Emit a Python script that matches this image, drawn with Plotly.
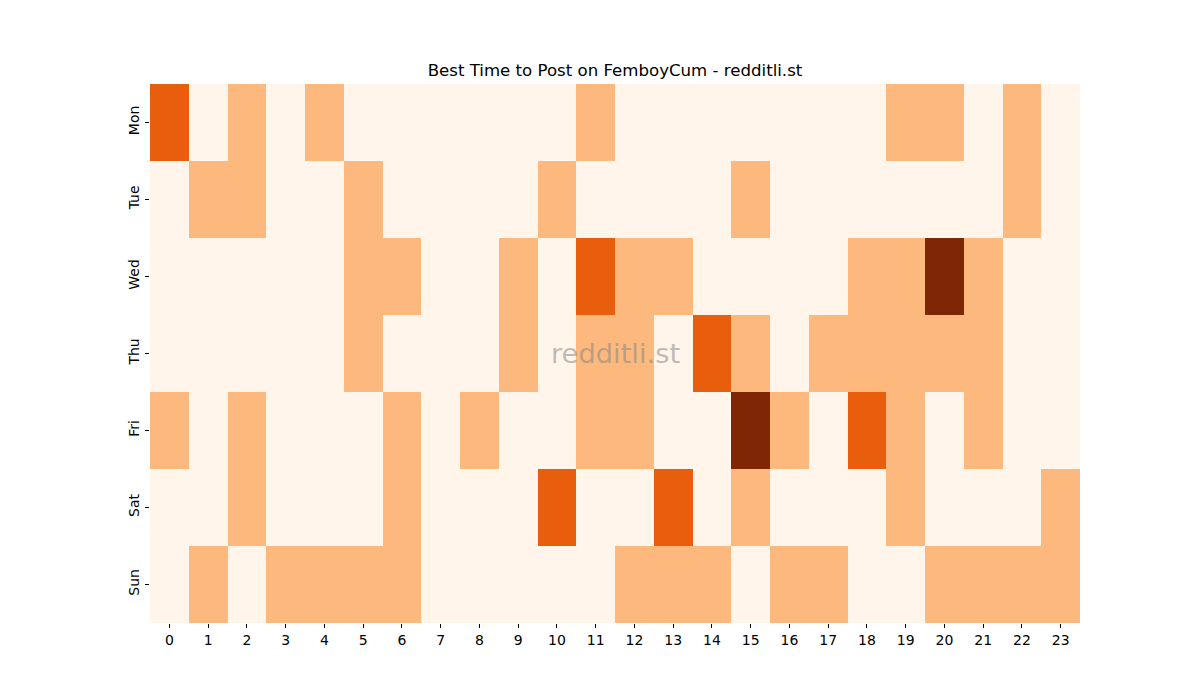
import plotly.graph_objects as go

# Post activity levels per weekday (rows) and hour of day (columns)
days = ["Mon", "Tue", "Wed", "Thu", "Fri", "Sat", "Sun"]
hours = list(range(24))

mon = [2, 0, 1, 0, 1, 0, 0, 0, 0, 0, 0, 1, 0, 0, 0, 0, 0, 0, 0, 1, 1, 0, 1, 0]
tue = [0, 1, 1, 0, 0, 1, 0, 0, 0, 0, 1, 0, 0, 0, 0, 1, 0, 0, 0, 0, 0, 0, 1, 0]
wed = [0, 0, 0, 0, 0, 1, 1, 0, 0, 1, 0, 2, 1, 1, 0, 0, 0, 0, 1, 1, 3, 1, 0, 0]
thu = [0, 0, 0, 0, 0, 1, 0, 0, 0, 1, 0, 1, 1, 0, 2, 1, 0, 1, 1, 1, 1, 1, 0, 0]
fri = [1, 0, 1, 0, 0, 0, 1, 0, 1, 0, 0, 1, 1, 0, 0, 3, 1, 0, 2, 1, 0, 1, 0, 0]
sat = [0, 0, 1, 0, 0, 0, 1, 0, 0, 0, 2, 0, 0, 2, 0, 1, 0, 0, 0, 1, 0, 0, 0, 1]
sun = [0, 1, 0, 1, 1, 1, 1, 0, 0, 0, 0, 0, 1, 1, 1, 0, 1, 1, 0, 0, 1, 1, 1, 1]

subreddit = "FemboyCum"
watermark = "redditli.st"

FONT = "DejaVu Sans, Liberation Sans, sans-serif"

fig = go.Figure(
    go.Heatmap(
        z=[mon, tue, wed, thu, fri, sat, sun],
        x=hours,
        y=days,
        colorscale="Oranges",
        zmin=0,
        zmax=3,
        showscale=False,
    )
)

# page body has an 8px margin, so shift everything up/left by 8px
fig.update_layout(
    width=1200,
    height=700,
    margin=dict(l=142, r=128, t=76, b=85),
    paper_bgcolor="white",
    plot_bgcolor="white",
    font=dict(family=FONT, size=14, color="black"),
    title=dict(
        text=f"Best Time to Post on {subreddit} - {watermark}",
        x=607 / 1200,
        xanchor="center",
        y=1 - 62 / 700,
        yanchor="middle",
        font=dict(family=FONT, size=16.6, color="black"),
    ),
    annotations=[
        dict(
            text=watermark,
            x=0.5,
            y=0.5,
            xref="paper",
            yref="paper",
            showarrow=False,
            font=dict(family=FONT, size=27.3, color="rgba(128,128,128,0.5)"),
        )
    ],
)

fig.update_xaxes(
    tickmode="array",
    tickvals=hours,
    ticktext=[str(h) for h in hours],
    ticks="outside",
    ticklen=4,
    tickcolor="black",
    showgrid=False,
    zeroline=False,
    showline=False,
)
fig.update_yaxes(
    autorange="reversed",
    tickangle=-90,
    ticks="outside",
    ticklen=4,
    tickcolor="black",
    showgrid=False,
    zeroline=False,
    showline=False,
)

fig.write_html("out.html")
